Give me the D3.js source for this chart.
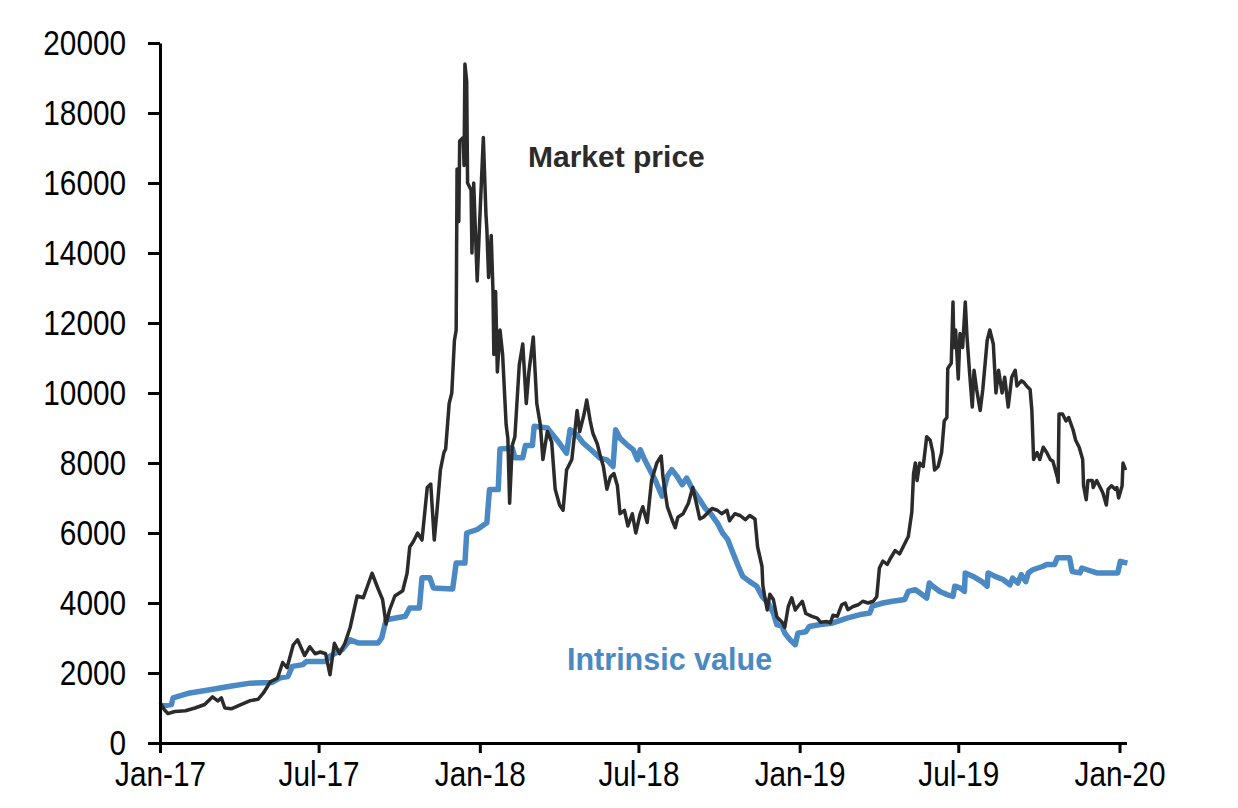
<!DOCTYPE html>
<html>
<head>
<meta charset="utf-8">
<script src="https://cdn.jsdelivr.net/npm/d3@7"></script>
<style>
  body { margin: 0; background: #fff; }
  .axis text { font-family: "Liberation Sans", Arial, sans-serif; font-size: 35px; fill: #000; }
  .axis path, .axis line { stroke: #000; stroke-width: 3; }
  .lbl { font-family: "Liberation Sans", Arial, sans-serif; font-weight: bold; }
</style>
</head>
<body>
<script>
// tick labels
var xTicks = ["2017-01-01", "2017-07-01", "2018-01-01", "2018-07-01", "2019-01-01", "2019-07-01", "2020-01-01"];
var yTicks = [0, 2000, 4000, 6000, 8000, 10000, 12000, 14000, 16000, 18000, 20000];

// bitcoin market price, USD
var marketPrice = [
  ["2017-01-01",1150],["2017-01-06",950],["2017-01-10",840],["2017-01-18",900],["2017-01-30",920],
  ["2017-02-10",1000],["2017-02-21",1100],["2017-03-02",1320],["2017-03-08",1200],["2017-03-12",1290],
  ["2017-03-16",1000],["2017-03-24",980],["2017-04-02",1080],["2017-04-14",1210],["2017-04-23",1250],
  ["2017-04-29",1430],["2017-05-07",1750],["2017-05-15",1850],["2017-05-21",2300],["2017-05-26",2150],
  ["2017-06-02",2800],["2017-06-07",2950],["2017-06-15",2500],["2017-06-21",2750],["2017-06-27",2550],
  ["2017-07-03",2600],["2017-07-09",2550],["2017-07-14",1950],["2017-07-19",2850],["2017-07-25",2550],
  ["2017-07-31",2850],["2017-08-06",3300],["2017-08-14",4200],["2017-08-21",4150],["2017-08-26",4500],
  ["2017-08-31",4850],["2017-09-07",4400],["2017-09-12",4100],["2017-09-16",3400],["2017-09-20",3800],
  ["2017-09-26",4200],["2017-10-05",4350],["2017-10-10",4850],["2017-10-13",5600],["2017-10-17",5750],
  ["2017-10-22",6000],["2017-10-27",5800],["2017-11-02",7300],["2017-11-06",7400],["2017-11-10",5800],
  ["2017-11-13",6600],["2017-11-17",7800],["2017-11-21",8300],["2017-11-23",8400],["2017-11-27",9700],
  ["2017-11-30",10000],["2017-12-03",11500],["2017-12-05",11800],["2017-12-06",16400],["2017-12-08",14900],
  ["2017-12-09",17200],["2017-12-13",17300],["2017-12-14",16500],["2017-12-15",19400],["2017-12-17",18900],
  ["2017-12-18",16000],["2017-12-22",15800],["2017-12-23",14000],["2017-12-25",16000],["2017-12-29",13200],
  ["2018-01-01",15000],["2018-01-05",17300],["2018-01-08",15100],["2018-01-09",14700],["2018-01-11",13300],
  ["2018-01-14",14500],["2018-01-16",12900],["2018-01-17",11100],["2018-01-19",12900],["2018-01-21",10600],
  ["2018-01-24",11800],["2018-01-27",11100],["2018-01-31",9100],["2018-02-02",8700],["2018-02-04",6850],
  ["2018-02-07",8500],["2018-02-10",8750],["2018-02-15",10800],["2018-02-19",11400],["2018-02-23",9700],
  ["2018-02-26",10600],["2018-03-03",11600],["2018-03-07",9700],["2018-03-11",9100],["2018-03-14",8100],
  ["2018-03-19",8900],["2018-03-24",8600],["2018-03-28",7250],["2018-04-02",6800],["2018-04-06",6650],
  ["2018-04-10",7800],["2018-04-16",8100],["2018-04-22",9500],["2018-04-25",8900],["2018-04-30",9400],
  ["2018-05-03",9800],["2018-05-07",9200],["2018-05-10",8850],["2018-05-15",8550],["2018-05-18",8250],
  ["2018-05-22",7900],["2018-05-26",7250],["2018-05-30",7600],["2018-06-03",7700],["2018-06-07",7350],
  ["2018-06-10",6550],["2018-06-15",6650],["2018-06-19",6200],["2018-06-24",6550],["2018-06-28",6000],
  ["2018-07-03",6550],["2018-07-06",6750],["2018-07-11",6300],["2018-07-16",7500],["2018-07-22",8000],
  ["2018-07-27",8200],["2018-07-29",7600],["2018-08-03",6750],["2018-08-08",6400],["2018-08-12",6150],
  ["2018-08-15",6450],["2018-08-21",6550],["2018-08-27",6850],["2018-09-01",7300],["2018-09-06",6750],
  ["2018-09-09",6400],["2018-09-13",6450],["2018-09-19",6600],["2018-09-23",6700],["2018-09-29",6650],
  ["2018-10-04",6550],["2018-10-10",6650],["2018-10-13",6350],["2018-10-19",6550],["2018-10-25",6500],
  ["2018-10-31",6380],["2018-11-05",6500],["2018-11-11",6400],["2018-11-14",5600],["2018-11-19",5050],
  ["2018-11-20",4500],["2018-11-22",4200],["2018-11-25",3800],["2018-11-28",4250],["2018-12-02",4100],
  ["2018-12-06",3600],["2018-12-12",3450],["2018-12-15",3300],["2018-12-19",3900],["2018-12-23",4150],
  ["2018-12-27",3800],["2018-12-30",3900],["2019-01-04",4050],["2019-01-08",3700],["2019-01-15",3620],
  ["2019-01-21",3570],["2019-01-25",3450],["2019-02-01",3470],["2019-02-05",3430],["2019-02-08",3650],
  ["2019-02-13",3620],["2019-02-18",3950],["2019-02-22",4000],["2019-02-25",3810],["2019-03-03",3900],
  ["2019-03-09",3950],["2019-03-14",4050],["2019-03-20",4000],["2019-03-26",4050],["2019-03-30",4180],
  ["2019-04-02",5000],["2019-04-06",5200],["2019-04-11",5100],["2019-04-14",5250],["2019-04-20",5500],
  ["2019-04-25",5400],["2019-05-01",5700],["2019-05-05",5900],["2019-05-09",6600],["2019-05-11",7700],
  ["2019-05-13",8000],["2019-05-15",7500],["2019-05-18",8000],["2019-05-22",7900],["2019-05-26",8750],
  ["2019-05-30",8650],["2019-06-02",8300],["2019-06-04",7800],["2019-06-08",7900],["2019-06-12",8300],
  ["2019-06-15",9200],["2019-06-18",9300],["2019-06-19",10700],["2019-06-23",10850],["2019-06-25",12600],
  ["2019-06-26",11300],["2019-06-28",11800],["2019-07-01",10400],["2019-07-03",11700],["2019-07-06",11300],
  ["2019-07-09",12600],["2019-07-11",11600],["2019-07-14",10550],["2019-07-17",9600],["2019-07-19",10650],
  ["2019-07-22",10100],["2019-07-26",9500],["2019-07-29",10100],["2019-08-03",11500],["2019-08-06",11800],
  ["2019-08-10",11400],["2019-08-13",10000],["2019-08-16",10650],["2019-08-20",10000],["2019-08-23",10450],
  ["2019-08-27",9600],["2019-08-31",10450],["2019-09-04",10650],["2019-09-06",10200],["2019-09-11",10350],
  ["2019-09-14",10300],["2019-09-17",10200],["2019-09-21",10100],["2019-09-23",9500],["2019-09-25",8100],
  ["2019-09-29",8300],["2019-10-02",8100],["2019-10-06",8450],["2019-10-10",8300],["2019-10-14",8100],
  ["2019-10-17",8050],["2019-10-22",7600],["2019-10-23",7450],["2019-10-24",9400],["2019-10-28",9400],
  ["2019-11-01",9200],["2019-11-04",9300],["2019-11-09",8950],["2019-11-12",8650],["2019-11-16",8450],
  ["2019-11-20",8100],["2019-11-21",7350],["2019-11-24",6950],["2019-11-26",7500],["2019-12-01",7500],
  ["2019-12-02",7300],["2019-12-06",7500],["2019-12-10",7300],["2019-12-13",7150],["2019-12-17",6800],
  ["2019-12-19",7250],["2019-12-23",7350],["2019-12-27",7250],["2019-12-29",7300],["2019-12-31",7000],
  ["2020-01-04",7350],["2020-01-05",8000],["2020-01-08",7800]
];

// intrinsic value estimate, USD
var intrinsicValue = [
  ["2017-01-01",1050],["2017-01-14",1100],["2017-01-16",1290],["2017-02-04",1430],["2017-02-27",1520],
  ["2017-03-22",1620],["2017-04-14",1710],["2017-05-09",1730],["2017-05-18",1860],["2017-05-27",1900],
  ["2017-06-01",2190],["2017-06-13",2240],["2017-06-17",2330],["2017-07-09",2330],["2017-07-14",2480],
  ["2017-07-28",2670],["2017-08-06",2950],["2017-08-15",2860],["2017-09-07",2860],["2017-09-11",3000],
  ["2017-09-16",3520],["2017-10-08",3620],["2017-10-13",3860],["2017-10-24",3860],["2017-10-27",4720],
  ["2017-11-05",4720],["2017-11-09",4430],["2017-12-01",4400],["2017-12-05",5140],["2017-12-15",5140],
  ["2017-12-17",6000],["2017-12-29",6100],["2018-01-09",6290],["2018-01-12",7240],["2018-01-22",7240],
  ["2018-01-24",8400],["2018-02-07",8430],["2018-02-10",8150],["2018-02-19",8150],["2018-02-22",8500],
  ["2018-03-02",8500],["2018-03-04",9050],["2018-03-19",9000],["2018-03-30",8660],["2018-04-10",8280],
  ["2018-04-14",8950],["2018-04-22",8800],["2018-04-29",8570],["2018-05-10",8330],["2018-05-18",8140],
  ["2018-05-26",8090],["2018-06-02",7900],["2018-06-05",8950],["2018-06-10",8710],["2018-06-18",8520],
  ["2018-06-25",8380],["2018-06-30",8090],["2018-07-03",8380],["2018-07-08",8100],["2018-07-14",7810],
  ["2018-07-20",7520],["2018-07-28",7050],["2018-08-03",7620],["2018-08-08",7810],["2018-08-14",7620],
  ["2018-08-20",7380],["2018-08-25",7570],["2018-09-01",7240],["2018-09-09",6950],["2018-09-15",6710],
  ["2018-09-21",6570],["2018-09-29",6290],["2018-10-05",6000],["2018-10-11",5810],["2018-10-17",5420],
  ["2018-10-23",5050],["2018-10-28",4760],["2018-11-05",4610],["2018-11-13",4480],["2018-11-19",4190],
  ["2018-11-26",4000],["2018-12-02",3710],["2018-12-06",3380],["2018-12-12",3330],["2018-12-15",3140],
  ["2018-12-21",2950],["2018-12-27",2810],["2018-12-30",3140],["2019-01-08",3180],["2019-01-12",3330],
  ["2019-01-23",3380],["2019-02-08",3430],["2019-02-24",3570],["2019-03-11",3670],["2019-03-22",3710],
  ["2019-03-25",3910],["2019-04-06",4000],["2019-04-17",4050],["2019-05-01",4100],["2019-05-05",4330],
  ["2019-05-13",4380],["2019-05-18",4290],["2019-05-26",4140],["2019-05-29",4570],["2019-06-02",4480],
  ["2019-06-10",4330],["2019-06-18",4240],["2019-06-25",4190],["2019-06-27",4480],["2019-07-03",4430],
  ["2019-07-08",4330],["2019-07-09",4860],["2019-07-18",4760],["2019-07-28",4610],["2019-08-03",4480],
  ["2019-08-04",4860],["2019-08-12",4760],["2019-08-21",4670],["2019-08-29",4520],["2019-09-01",4710],
  ["2019-09-07",4570],["2019-09-11",4810],["2019-09-16",4610],["2019-09-19",4860],["2019-09-24",4950],
  ["2019-10-06",5050],["2019-10-10",5100],["2019-10-19",5100],["2019-10-22",5290],["2019-11-05",5290],
  ["2019-11-08",4900],["2019-11-17",4860],["2019-11-19",5000],["2019-11-25",4950],["2019-12-06",4860],
  ["2019-12-30",4860],["2020-01-02",5190],["2020-01-10",5140]
];

var W = 1238, H = 808;
var squeeze = 0.85; // tick labels in the source are set in a narrow face
var parse = d3.timeParse("%Y-%m-%d");

var svg = d3.select("body").append("svg")
    .attr("width", W)
    .attr("height", H);

var x = d3.scaleTime()
    .domain([parse("2017-01-01"), parse("2020-01-09")])
    .range([160, 1126.5]);

var y = d3.scaleLinear()
    .domain([0, 20000])
    .range([743, 43]);

var line = d3.line()
    .x(function(d) { return x(parse(d[0])); })
    .y(function(d) { return y(d[1]); });

// intrinsic value underneath, market price on top
svg.append("path")
    .datum(intrinsicValue)
    .attr("d", line)
    .attr("fill", "none")
    .attr("stroke", "#4a89c3")
    .attr("stroke-width", 5.5)
    .attr("stroke-linejoin", "round");

svg.append("path")
    .datum(marketPrice)
    .attr("d", line)
    .attr("fill", "none")
    .attr("stroke", "#2b2b2b")
    .attr("stroke-width", 3.5)
    .attr("stroke-linejoin", "round");

// axes
var yAxis = svg.append("g")
    .attr("class", "axis")
    .attr("transform", "translate(160,0)")
    .call(d3.axisLeft(y).tickValues(yTicks).tickSizeInner(12).tickSizeOuter(0).tickPadding(22).tickFormat(d3.format("d")));

yAxis.selectAll(".tick text")
    .attr("x", -34 / squeeze)
    .attr("transform", "scale(" + squeeze + ",1)");

var xAxis = svg.append("g")
    .attr("class", "axis")
    .attr("transform", "translate(0,743)")
    .call(d3.axisBottom(x).tickValues(xTicks.map(parse)).tickSizeInner(10).tickSizeOuter(0).tickPadding(8).tickFormat(d3.timeFormat("%b-%y")));

xAxis.selectAll(".tick text")
    .attr("transform", "scale(" + squeeze + ",1)");

// series labels
svg.append("text")
    .attr("class", "lbl")
    .attr("x", 528).attr("y", 167)
    .attr("font-size", 30)
    .attr("fill", "#2b2b2b")
    .text("Market price");

svg.append("text")
    .attr("class", "lbl")
    .attr("x", 567).attr("y", 670)
    .attr("font-size", 30.5)
    .attr("fill", "#4a89c3")
    .text("Intrinsic value");
</script>
</body>
</html>
